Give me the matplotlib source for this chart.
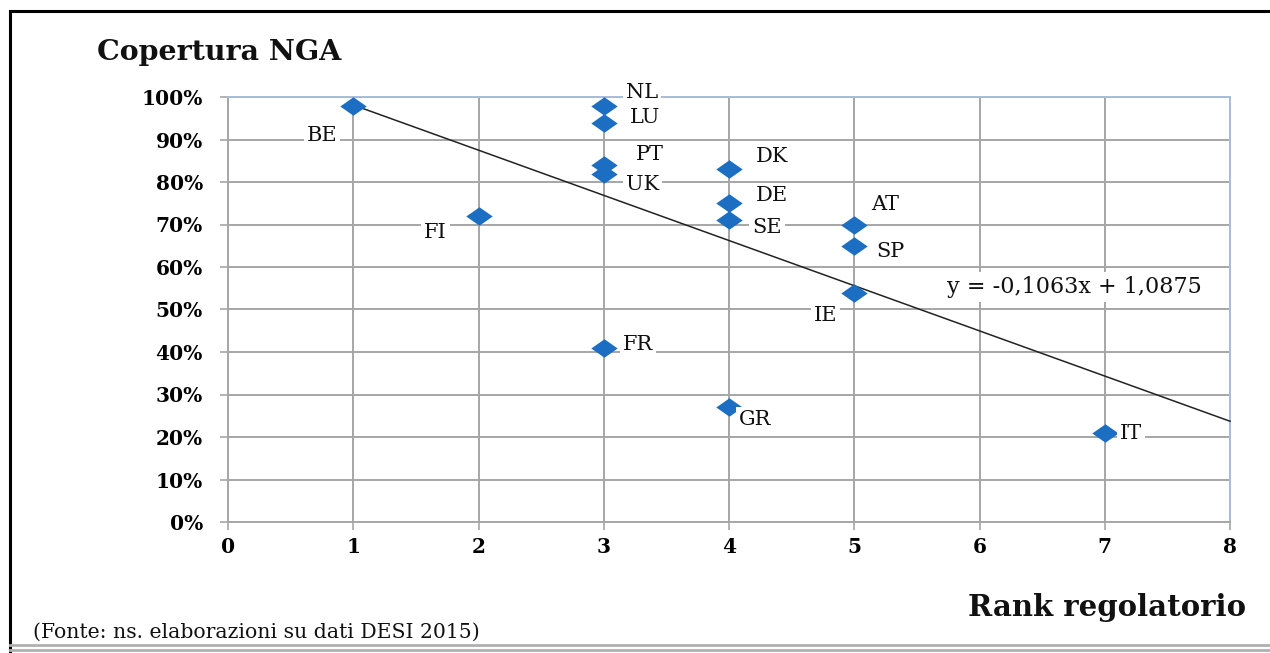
import numpy as np
import matplotlib
matplotlib.use("Agg")
import matplotlib.pyplot as plt
from matplotlib.lines import Line2D
from matplotlib.ticker import FuncFormatter, MultipleLocator

# data
countries = ["BE", "NL", "LU", "PT", "UK", "DK", "DE", "SE", "FI", "AT", "SP", "IE", "FR", "GR", "IT"]
rank = [1, 3, 3, 3, 3, 4, 4, 4, 2, 5, 5, 5, 3, 4, 7]
coverage = [0.98, 0.98, 0.94, 0.84, 0.82, 0.83, 0.75, 0.71, 0.72, 0.70, 0.65, 0.54, 0.41, 0.27, 0.21]

# linear trend as printed on the chart
slope = -0.1063
intercept = 1.0875

# label offsets in pixels (dx, dy) and alignment
label_off = {
    "BE": (-16, -30, "right"), "NL": (22, 13, "left"), "LU": (26, 5, "left"),
    "PT": (32, 11, "left"), "UK": (22, -11, "left"), "DK": (27, 13, "left"),
    "DE": (27, 8, "left"), "SE": (23, -7, "left"), "FI": (-32, -17, "right"),
    "AT": (17, 20, "left"), "SP": (22, -6, "left"), "IE": (-17, -23, "right"),
    "FR": (19, 3, "left"), "GR": (10, -12, "left"), "IT": (15, -1, "left"),
}

SERIF = "DejaVu Serif"
W, H = 1270, 653
fig = plt.figure(figsize=(W / 100, H / 100), dpi=100)
ax = fig.add_axes([228 / W, 1 - 522 / H, (1230 - 228) / W, (522 - 97) / H])

grid_c = "#a6a6a6"
ax.set_xlim(0, 8)
ax.set_ylim(0, 1)
ax.xaxis.set_major_locator(MultipleLocator(1))
ax.yaxis.set_major_locator(MultipleLocator(0.1))
ax.yaxis.set_major_formatter(FuncFormatter(lambda v, p: f"{v * 100:.0f}%"))
ax.grid(True, color=grid_c, linewidth=1.4)
ax.set_axisbelow(True)
for s in ["left", "bottom"]:
    ax.spines[s].set_color(grid_c)
    ax.spines[s].set_linewidth(1.4)
for s in ["top", "right"]:
    ax.spines[s].set_color("#a9bcd6")
    ax.spines[s].set_linewidth(1.4)
ax.tick_params(axis="both", direction="out", length=6, width=1.2, color=grid_c)
ax.tick_params(axis="y", pad=12)
ax.tick_params(axis="x", pad=5)
for lab in ax.get_xticklabels() + ax.get_yticklabels():
    lab.set_fontfamily(SERIF)
    lab.set_fontweight("bold")
    lab.set_fontsize(14.5)

# trend line
xs = np.array([1, 8])
ax.plot(xs, slope * xs + intercept, color="#222222", linewidth=1.1, zorder=3, clip_on=False)

# flattened diamond marker
diamond = [(-1, 0), (0, 0.7), (1, 0), (0, -0.7), (-1, 0)]
ax.plot(rank, coverage, linestyle="none", marker=diamond, markersize=19,
        color="#1b6ec2", markeredgewidth=0, zorder=4, clip_on=False)

for c, xv, yv in zip(countries, rank, coverage):
    dx, dy, ha = label_off[c]
    ax.annotate(c, (xv, yv), xytext=(dx * 0.72, dy * 0.72), textcoords="offset points",
                ha=ha, va="center", fontsize=15, fontfamily=SERIF, color="#111111",
                bbox=dict(boxstyle="square,pad=0.15", facecolor="white", edgecolor="none"),
                zorder=5, annotation_clip=False)

eq = f"y = {slope:.4f}x + {intercept:.4f}".replace(".", ",")
fig.text(947 / W, 1 - 287 / H, eq, ha="left", va="center", fontsize=16,
         fontfamily=SERIF, color="#111111",
         bbox=dict(boxstyle="square,pad=0.2", facecolor="white", edgecolor="none"), zorder=6)

fig.text(97 / W, 1 - 52 / H, "Copertura NGA", ha="left", va="center", fontsize=20.5,
         fontfamily=SERIF, fontweight="bold", color="#111111")
fig.text(968 / W, 1 - 607 / H, "Rank regolatorio", ha="left", va="center", fontsize=21,
         fontfamily=SERIF, fontweight="bold", color="#111111")
fig.text(33 / W, 1 - 632 / H, "(Fonte: ns. elaborazioni su dati DESI 2015)", ha="left",
         va="center", fontsize=14.7, fontfamily=SERIF, color="#111111")

# outer frame
fig.add_artist(Line2D([10 / W, 1], [1 - 11 / H, 1 - 11 / H], color="black", linewidth=2.2))
fig.add_artist(Line2D([10 / W, 10 / W], [1 - 11 / H, 0], color="black", linewidth=2.2))
fig.add_artist(Line2D([10 / W, 1], [1 - 645 / H, 1 - 645 / H], color="#b0b0b0", linewidth=2))
fig.add_artist(Line2D([10 / W, 1], [1 - 650 / H, 1 - 650 / H], color="#b0b0b0", linewidth=2))

fig.savefig("out.png", dpi=100)
